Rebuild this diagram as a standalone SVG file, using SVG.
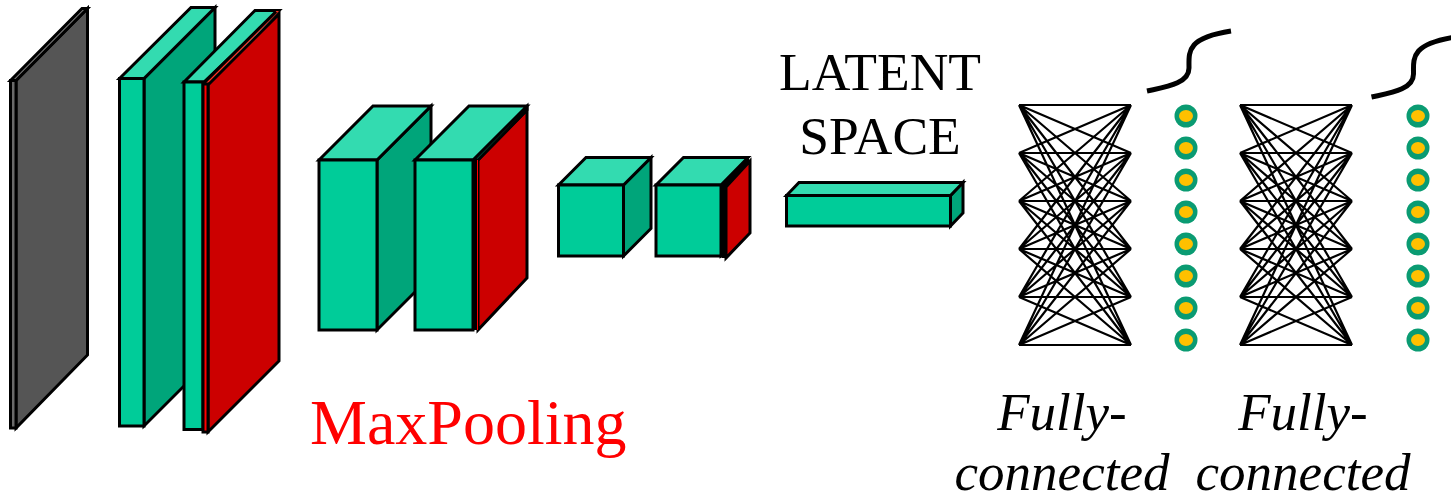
<svg xmlns="http://www.w3.org/2000/svg" width="1451" height="499" viewBox="0 0 1451 499">
<style>
.b{stroke:#000;stroke-width:3;stroke-linejoin:miter}
.f{fill:#00cc99}.t{fill:#33dbb0}.s{fill:#00a57a}
.r{fill:#cc0000}.rl{fill:#ff0000}.rt{fill:#ff3322}
.gf{fill:#6a6a6a}.gt{fill:#808080}.gs{fill:#555555}
.net{fill:none;stroke:#000;stroke-width:2.2}
.o{fill:#0a9b72}.y{fill:#ffc000}
.sig{fill:none;stroke:#000;stroke-width:5}
.txt{font-family:"Liberation Serif","Times New Roman",serif;fill:#000}
.it{font-style:italic;font-size:53px;text-anchor:middle}
</style>
<defs>
<path id="mesh" class="net" d="M1019,105L1131,105M1019,105L1131,153M1019,105L1131,201M1019,105L1131,249M1019,105L1131,297M1019,105L1131,345M1019,153L1131,105M1019,153L1131,153M1019,153L1131,201M1019,153L1131,249M1019,153L1131,297M1019,153L1131,345M1019,201L1131,105M1019,201L1131,153M1019,201L1131,201M1019,201L1131,249M1019,201L1131,297M1019,201L1131,345M1019,249L1131,105M1019,249L1131,153M1019,249L1131,201M1019,249L1131,249M1019,249L1131,297M1019,249L1131,345M1019,297L1131,105M1019,297L1131,153M1019,297L1131,201M1019,297L1131,249M1019,297L1131,297M1019,297L1131,345M1019,345L1131,105M1019,345L1131,153M1019,345L1131,201M1019,345L1131,249M1019,345L1131,297M1019,345L1131,345"/>
<g id="dots">
<circle class="o" cx="1186" cy="116" r="11.5"/><ellipse class="y" cx="1186" cy="116" rx="7" ry="6"/>
<circle class="o" cx="1186" cy="148" r="11.5"/><ellipse class="y" cx="1186" cy="148" rx="7" ry="6"/>
<circle class="o" cx="1186" cy="180" r="11.5"/><ellipse class="y" cx="1186" cy="180" rx="7" ry="6"/>
<circle class="o" cx="1186" cy="212" r="11.5"/><ellipse class="y" cx="1186" cy="212" rx="7" ry="6"/>
<circle class="o" cx="1186" cy="244" r="11.5"/><ellipse class="y" cx="1186" cy="244" rx="7" ry="6"/>
<circle class="o" cx="1186" cy="276" r="11.5"/><ellipse class="y" cx="1186" cy="276" rx="7" ry="6"/>
<circle class="o" cx="1186" cy="308" r="11.5"/><ellipse class="y" cx="1186" cy="308" rx="7" ry="6"/>
<circle class="o" cx="1186" cy="340" r="11.5"/><ellipse class="y" cx="1186" cy="340" rx="7" ry="6"/>
</g>
<path id="sigmoid" class="sig" d="M1147,91C1165,87 1189,84 1189,68C1189,52 1186,38 1231,31"/>
</defs>

<g id="input-layer">
<polygon class="b gs" points="16,80.5 87.5,8.5 87.5,355 16,428"/>
<polygon class="b gt" points="10.5,80.5 82,8.5 87.5,8.5 16,80.5"/>
<rect class="b gf" x="10.5" y="80.5" width="5.5" height="347.5"/>
</g>

<g id="conv-1">
<polygon class="b s" points="144,78.5 215,7.5 215,355 144,426"/>
<polygon class="b t" points="119.5,78.5 191,7.5 215,7.5 144,78.5"/>
<rect class="b f" x="119.5" y="78.5" width="24.5" height="347.5"/>
</g>

<g id="conv-2">
<polygon class="b t" points="184,82 255,10.5 279,10.5 204,82"/>
<polygon class="rt" points="203,84 276,11 279,11 208,84"/>
<polygon class="b r" points="208,85 279,14 279,361 208,432"/>
<path class="b" fill="none" d="M203,84L276,11.5"/>
<rect class="b f" x="184" y="82" width="19" height="347.5"/>
<rect class="b rl" x="203" y="84" width="5" height="348"/>
</g>

<g id="conv-3">
<polygon class="b s" points="377,160 431,106 431,276 377,330"/>
<polygon class="b t" points="319,160 373,106 431,106 377,160"/>
<rect class="b f" x="319" y="160" width="58" height="170"/>
</g>

<g id="conv-4">
<polygon class="b r" points="478,160 527,110 527,278 478,330"/>
<polygon class="b s" points="473,160 527,106 527,110 478,160"/>
<polygon class="b t" points="415,160 469,106 527,106 473,160"/>
<rect class="b f" x="415" y="160" width="58" height="170"/>
<rect class="rl" x="475" y="160" width="3" height="170"/>
<path class="b" fill="none" d="M475.5,160V330"/>
</g>

<g id="conv-5">
<polygon class="b s" points="623.5,185 651,157.5 651,228.5 623.5,256"/>
<polygon class="b t" points="558.5,185 586,157.5 651,157.5 623.5,185"/>
<rect class="b f" x="558.5" y="185" width="65" height="71"/>
</g>

<g id="conv-6">
<polygon class="b s" points="721,185 724,182 724,254 721,256"/>
<polygon class="b r" points="726,187 750,161 750,233 726,258"/>
<polygon points="721,185 748,157.5 750,161 727,187 727,258 722,258"/>
<polygon class="b t" points="656,185 683.5,157.5 748,157.5 721,185"/>
<rect class="b f" x="656" y="185" width="65" height="71"/>
</g>

<g id="latent">
<polygon class="b s" points="950.5,195.5 963,182.5 963,213 950.5,226"/>
<polygon class="b t" points="786.5,195.5 799,182.5 963,182.5 950.5,195.5"/>
<rect class="b f" x="786.5" y="195.5" width="164" height="30.5"/>
<text class="txt" x="880" y="90" font-size="53.5" text-anchor="middle">LATENT</text>
<text class="txt" x="880" y="154" font-size="53.5" text-anchor="middle">SPACE</text>
</g>

<g id="maxpooling-label">
<text class="txt" x="310" y="444" font-size="64" style="fill:#ff0000">MaxPooling</text>
</g>

<g id="connectors">
<use href="#mesh"/>
<use href="#mesh" x="221"/>
</g>

<g id="dots-1"><use href="#dots"/></g>
<g id="dots-2"><use href="#dots" x="232"/></g>
<g id="activation-1"><use href="#sigmoid"/></g>
<g id="activation-2"><use href="#sigmoid" x="224.5" y="6"/></g>

<g id="fc-label-1">
<text class="txt it" x="1062" y="430">Fully-</text>
<text class="txt it" x="1062" y="490">connected</text>
</g>
<g id="fc-label-2">
<text class="txt it" x="1303" y="430">Fully-</text>
<text class="txt it" x="1303" y="490">connected</text>
</g>
</svg>
